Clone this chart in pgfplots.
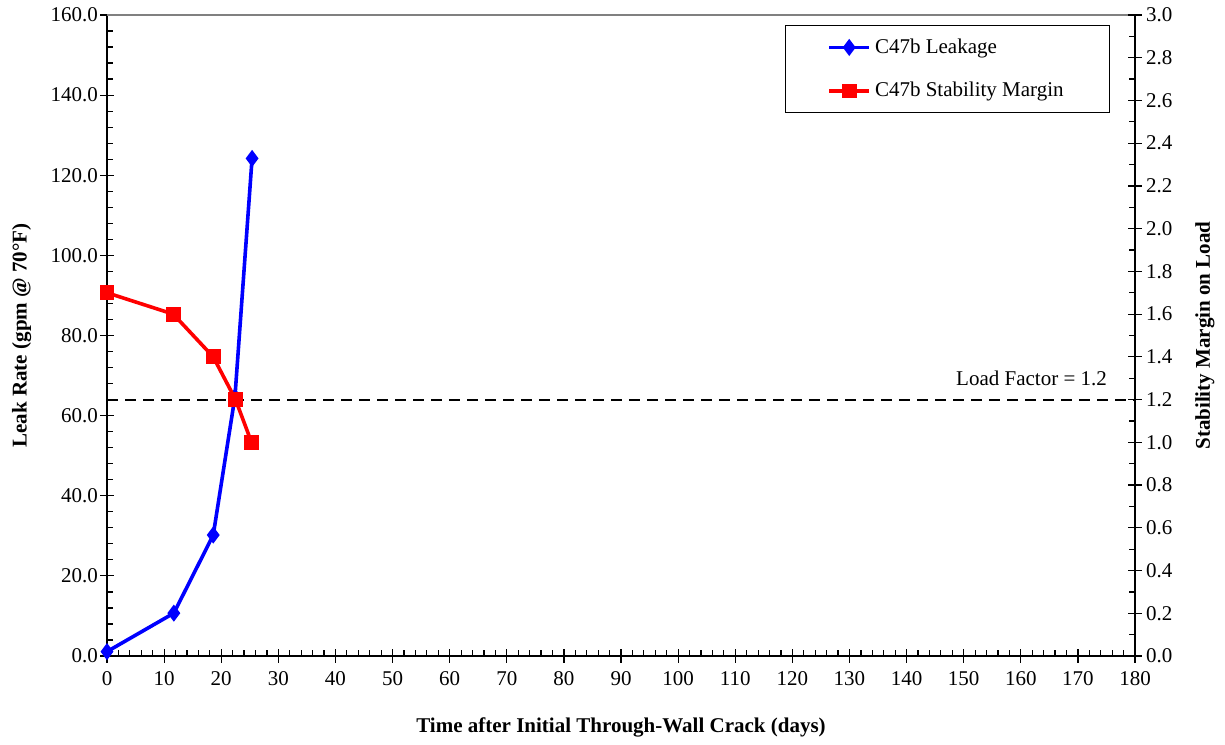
\documentclass[border=0pt]{standalone}
\usepackage{fontspec}
\setmainfont{Liberation Serif}
\usepackage{pgfplots}
\pgfplotsset{compat=1.18}

\pgfplotsset{
  common/.style={
    scale only axis, width=514pt, height=320.5pt,
    xmin=0, xmax=180,
    tick align=inside, major tick length=3.3pt, minor tick length=3pt,
    /pgf/number format/assume math mode=true,
    tick style={black, line width=0.6pt},
    axis line style={line width=0.6pt},
  },
}

\begin{document}
\begin{tikzpicture}[font=\fontsize{10.5}{12.6}\selectfont]
% left axis: leak rate
\begin{axis}[common, clip=false,
  axis x line*=bottom, axis y line*=left,
  ymin=0, ymax=160,
  xtick={0,10,...,180}, minor x tick num=4,
  ytick={0,20,...,160}, minor y tick num=4,
  extra x ticks={0,10,...,180}, extra x tick labels={},
  extra y ticks={0,20,...,160}, extra y tick labels={},
  extra tick style={tick align=outside, major tick length=3.3pt},
  yticklabel style={xshift=-1pt, /pgf/number format/fixed, /pgf/number format/fixed zerofill, /pgf/number format/precision=1},
  xticklabel style={yshift=-4pt},
  xlabel={\textbf{Time after Initial Through-Wall Crack (days)}},
  ylabel={\textbf{Leak Rate (gpm @ 70°F)}},
  every axis x label/.style={at={(axis description cs:0.5,-0.111)}, anchor=center},
  every axis y label/.style={at={(axis description cs:-0.0830,0.5)}, anchor=center, rotate=90},
  legend cell align=left,
  legend style={at={(axis description cs:0.9757,0.984)}, anchor=north east,
    draw=black, inner xsep=21pt, inner ysep=4.5pt, row sep=9pt,
    legend image post style={line width=1.8pt}},
  legend image code/.code={\draw[#1] (0pt,0pt) -- (20pt,0pt); \draw[#1, only marks] plot coordinates {(10pt,0pt)};},
]
\addplot[blue, line width=1.8pt, mark=diamond*, mark size=2.8pt] coordinates {
  (0, 1.1)
  (11.7, 10.7)
  (18.6, 30.2)
  (22.4, 64.7)
  (25.4, 124.2)
};
\addlegendentry{C47b Leakage}
\addlegendimage{red, line width=1.8pt, mark=square*, mark size=2.8pt}
\addlegendentry{C47b Stability Margin}
\draw[gray, line width=0.8pt] (rel axis cs:0,1) -- (rel axis cs:1,1);
% fixed picture frame matching the reference proportions
\path (rel axis cs:-0.1041,-0.1373) rectangle (rel axis cs:1.0875,1.0234);
\end{axis}
% right axis: stability margin
\begin{axis}[common,
  axis x line=none, axis y line*=right,
  ymin=0, ymax=3,
  ytick={0,0.2,...,3.01}, minor y tick num=1,
  extra y ticks={0,0.2,...,3.01}, extra y tick labels={},
  extra tick style={tick align=outside, major tick length=3.3pt},
  yticklabel style={xshift=2pt, /pgf/number format/fixed, /pgf/number format/fixed zerofill, /pgf/number format/precision=1},
  ylabel={\textbf{Stability Margin on Load}},
  every axis y label/.style={at={(axis description cs:1.068,0.5)}, anchor=center, rotate=90},
]
\addplot[black, line width=1pt, dash pattern=on 5.5pt off 3.5pt] coordinates {(0,1.2) (180,1.2)};
\addplot[red, line width=1.8pt, mark=square*, mark size=2.8pt] coordinates {
  (0, 1.70)
  (11.6, 1.60)
  (18.6, 1.40)
  (22.5, 1.20)
  (25.3, 1.00)
};
\node[anchor=east] at (axis cs:176.3,1.30) {Load Factor = 1.2};
\end{axis}
\end{tikzpicture}
\end{document}
